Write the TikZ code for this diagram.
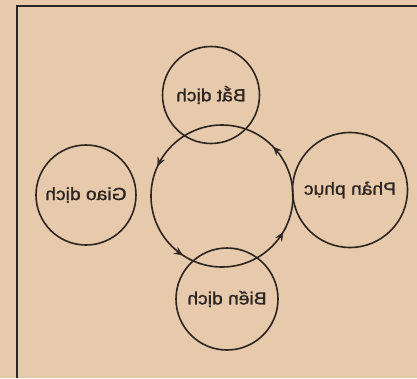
\documentclass[tikz,border=0pt]{standalone}
\usepackage{fontspec}
\setmainfont{Liberation Sans}
\newfontfamily\lblfont[FakeBold=1.2]{Liberation Sans}
\usetikzlibrary{decorations.markings,arrows.meta}
\definecolor{paper}{RGB}{231,201,172}
\definecolor{ink}{RGB}{45,37,33}
\newcommand\mirtxt[1]{\scalebox{-1.1}[1]{#1}}
\tikzset{
  ring/.style={circle, draw=ink, line width=1.6pt, inner sep=0pt, text=ink,
    font=\lblfont\fontsize{17.5}{20}\selectfont},
  flowtip/.tip={Stealth[length=9pt,width=8pt,inset=3.5pt]},
  cycleflow/.style={postaction={decorate}, decoration={markings,
    mark=at position 0.122 with {\arrow[ink]{flowtip}},
    mark=at position 0.431 with {\arrow[ink]{flowtip}},
    mark=at position 0.657 with {\arrow[ink]{flowtip}},
    mark=at position 0.915 with {\arrow[ink]{flowtip}}}}
}
\begin{document}
\begin{tikzpicture}[x=1pt,y=-1pt]
  \fill[paper] (0,0) rectangle (417,378);
  \useasboundingbox (0,0) rectangle (417,378);
  % frame (top and left edges only)
  \draw[ink, line width=1.6pt] (17,378) -- (17,6) -- (417,6);
  % central cycle
  \node[ring, minimum size=142pt] (chu) at (222,196) {};
  \path[cycleflow] (chu.center) circle [radius=71pt];
  % outer circles
  \node[ring, minimum size=97pt]  (bat)  at (211,95)  {\mirtxt{Bắt dịch}};
  \node[ring, minimum size=100pt] (giao) at (86,195)  {\mirtxt{Giao dịch}};
  \node[ring, minimum size=115pt] (phan) at (350,190) {\mirtxt{Phản phục}};
  \node[ring, minimum size=102pt] (bien) at (227,299) {\mirtxt{Biến dịch}};
\end{tikzpicture}
\end{document}
